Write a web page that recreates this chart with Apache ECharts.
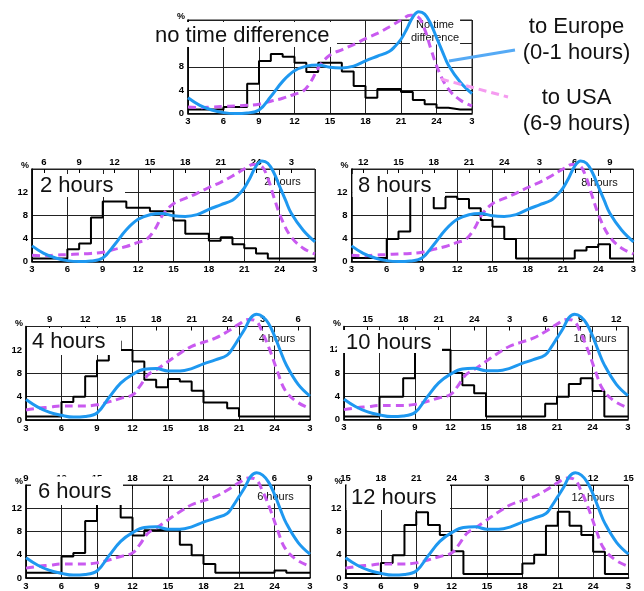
<!DOCTYPE html>
<html><head><meta charset="utf-8">
<script src="https://cdn.jsdelivr.net/npm/echarts@6/dist/echarts.min.js"></script>
<style>html,body{margin:0;padding:0;background:#fff}#c{width:644px;height:591px}</style>
</head><body><div id="c"></div>
<script>
// ---------- DATA ----------
const hourStarts = [3,4,5,6,7,8,9,10,11,12,13,14,15,16,17,18,19,20,21,22,23,24,25,26];
const bottomTicks = [3,6,9,12,15,18,21,24,27];
const yTicks = [0,4,8,12];

const stepsNone = [0.7,0.7,0.7,1.1,1.1,5.1,9.0,10.2,9.7,8.7,7.1,8.7,8.7,7.2,4.7,2.7,4.2,4.2,3.7,2.3,1.6,1.0,0.7,0.7];
const steps2h   = [0.5,0.5,0.5,2.1,3.1,7.6,10.4,10.4,9.3,9.3,8.7,8.7,7.1,4.8,4.8,3.6,4.2,3.0,2.3,1.4,0.5,0.5,0.5,0.5];
const steps8h   = [0.6,0.6,0.6,3.9,5.2,13.0,13.5,9.2,11.2,10.8,9.2,7.2,6.0,3.9,0.5,0.5,0.5,0.5,0.5,1.9,2.5,3.0,0.5,0.5];
const steps4h   = [0.6,0.6,0.6,3.1,4.0,7.5,10.2,13.5,12.0,10.0,6.9,5.6,7.0,6.6,5.0,3.0,3.0,2.0,0.6,0.6,0.6,0.6,0.6,0.6];
const steps10h  = [0.5,0.5,0.5,3.9,3.9,7.1,13.0,13.5,12.0,8.0,5.9,4.5,0.5,0.5,0.5,0.5,0.5,2.7,3.9,6.1,7.1,4.9,0.5,0.5];
const steps6h   = [0.9,0.9,0.9,3.7,4.3,9.8,13.5,14.0,10.4,7.3,8.2,8.3,8.3,5.7,3.9,2.4,0.9,0.9,0.9,0.9,0.9,1.3,0.9,0.9];
const steps12h  = [0.7,0.7,0.7,2.6,3.9,9.1,11.3,9.1,7.4,4.6,0.7,0.7,0.7,0.7,0.7,2.5,4.0,9.0,11.4,9.0,7.4,4.5,0.7,0.7];

const europeHours = [3,4,5,6,7,8,9,10,11,12,13,14,15,16,17,18,19,20,20.5,21,21.5,22,22.5,23,23.5,24,24.5,25,26,27];
const europeA = [2.7,1.4,0.6,0.15,0.0,0.1,0.6,2.9,5.5,7.3,8.1,8.3,7.9,7.8,8.1,9.0,9.8,10.6,11.5,12.7,14.5,16.5,17.4,17.0,15.4,13.0,10.6,8.3,5.4,3.4];
const europeB = [3.5,2.2,1.3,0.8,0.5,0.6,1.2,3.8,6.3,7.8,8.7,8.8,8.4,8.4,8.8,9.6,10.3,11.1,12.4,14.0,15.6,17.5,18.1,17.7,16.5,14.4,11.8,9.4,6.1,4.1];

const usaHoursA = [3,4,5,6,7,8,9,10,11,12,12.7,13.4,14.1,15,16,17,18,19,20,21,21.8,22.4,23,23.5,24.2,25,26,27];
const usaA = [1.1,1.0,1.1,1.2,1.3,1.4,1.6,2.1,2.6,3.3,3.8,5.5,8.1,10.0,10.9,11.8,12.8,13.7,14.8,16.0,16.8,16.6,14.4,11.2,7.2,4.2,2.3,1.3];
const usaHoursB = [3,4,5,6,7,8,9,10,11,12,12.6,13.3,14,15,16,17,18,19,20,21,21.8,22.4,23,23.6,24.2,24.9,25.9,27];
const usaB = [1.7,2.0,2.2,2.4,2.4,2.4,2.6,3.1,3.7,4.3,5.7,7.7,8.6,10.0,11.4,12.6,13.3,14.0,15.1,16.4,17.2,17.0,14.9,12.0,8.6,5.1,3.1,2.0];

const panelTitles = ['no time difference','2 hours','8 hours','4 hours','10 hours','6 hours','12 hours'];
const smallTitles = ['No time\ndifference','2 hours','8 hours','4 hours','10 hours','6 hours','12 hours'];
const shifts = [null,2,8,4,10,6,12];
const legendTexts = ['to Europe','(0-1 hours)','to USA','(6-9 hours)'];

// ---------- LAYOUT / STYLE ----------
const FONT = "'Liberation Sans', Arial, sans-serif";
const LBL = "'Liberation Sans', Arial, sans-serif";
const BLUE = '#1e98f0', MAG = '#c95af0';

const layout = [
  {steps:stepsNone, set:'A', left:188, top:20, w:284, h:93.5, box:[150,22,187,25], bx:155, by:35.5, sx:435, sy:31.5},
  {steps:steps2h, set:'A', left:32, top:169, w:283, h:92.5, box:[33,174,92,23], bx:40, by:185.5, sx:282.5, sy:181.5},
  {steps:steps8h, set:'A', left:351.5, top:169, w:282, h:92.5, box:[352.5,174,92.5,23], bx:358, by:185.5, sx:599.5, sy:182.5},
  {steps:steps4h, set:'B', left:26, top:326.5, w:284, h:93.5, box:[27,328,94,27], bx:32, by:342, sx:277, sy:339},
  {steps:steps10h, set:'B', left:344, top:326.5, w:284, h:93, box:[337,330,105,23], bx:346, by:343, sx:595, sy:339},
  {steps:steps6h, set:'B', left:26, top:485, w:284, h:93.5, box:[31,476.5,92,28.5], bx:38, by:491.5, sx:275.5, sy:497},
  {steps:steps12h, set:'B', left:345.5, top:485, w:283, h:93.5, box:[346.5,484,103.5,26], bx:351, by:498, sx:593, sy:498}
];

const labelStyle = {color:'#000', fontSize:9.5, fontWeight:'bold', fontFamily:LBL};
const grid = [], xAxis = [], yAxis = [], series = [], graphic = [];
const topCats = [];
for (let h = 3; h <= 27; h++) topCats.push(String(h));

layout.forEach((p, i) => {
  grid.push({left:p.left, top:p.top, width:p.w, height:p.h, show:true, borderColor:'#222', borderWidth:1, backgroundColor:'transparent'});
  const bIdx = xAxis.length;
  xAxis.push({
    gridIndex:i, type:'value', min:bottomTicks[0], max:bottomTicks[bottomTicks.length-1], interval:3,
    axisLine:{show:true, lineStyle:{color:'#000', width:1.6}},
    axisTick:{show:false},
    splitLine:{show:true, lineStyle:{color:'#222', width:1}},
    axisLabel:Object.assign({margin:3, formatter:v => String(v > 24 ? v - 24 : v)}, labelStyle)
  });
  const s = shifts[i];
  if (s !== null) {
    const showFn = (idx, val) => (Number(val) + s) % 3 === 0;
    xAxis.push({
      gridIndex:i, type:'category', position:'top', data:topCats, boundaryGap:false,
      axisLine:{show:false},
      axisTick:{show:true, inside:true, length:4, interval:showFn, lineStyle:{color:'#000', width:1}},
      splitLine:{show:false},
      axisLabel:Object.assign({margin:2, interval:showFn,
        formatter:v => String((Number(v) + s - 1) % 24 + 1)}, labelStyle)
    });
  }
  yAxis.push({
    gridIndex:i, type:'value', min:0, max:16, interval:4,
    axisLine:{show:true, lineStyle:{color:'#000', width:1.6}},
    axisTick:{show:false},
    splitLine:{show:true, lineStyle:{color:'#222', width:1}},
    axisLabel:Object.assign({margin:4, formatter:v => (yTicks.indexOf(v) >= 0 ? String(v) : '')}, labelStyle)
  });
  const stepData = hourStarts.map((h, k) => [h, p.steps[k]]);
  stepData.push([27, p.steps[p.steps.length - 1]]);
  series.push({type:'line', xAxisIndex:bIdx, yAxisIndex:i, step:'end', data:stepData, symbol:'none',
    lineStyle:{color:'#000', width:2}, z:3, silent:true, animation:false});
  const uH = p.set === 'A' ? usaHoursA : usaHoursB, uV = p.set === 'A' ? usaA : usaB;
  series.push({type:'line', xAxisIndex:bIdx, yAxisIndex:i, smooth:0.4, clip:false, symbol:'none',
    data:uH.map((h, k) => [h, uV[k]]), lineStyle:{color:MAG, width:3, type:[8,5]}, z:4, silent:true, animation:false});
  const eV = p.set === 'A' ? europeA : europeB;
  series.push({type:'line', xAxisIndex:bIdx, yAxisIndex:i, smooth:0.4, clip:false, symbol:'none',
    data:europeHours.map((h, k) => [h, eV[k]]), lineStyle:{color:BLUE, width:3}, z:5, silent:true, animation:false});

  graphic.push({type:'text', x:p.left - 7, y:p.top - 3, z:10,
    style:{text:'%', fill:'#000', font:'bold 9px ' + LBL, align:'center', verticalAlign:'middle', textAlign:'center', textVerticalAlign:'middle'}});
  graphic.push({type:'text', x:p.sx, y:p.sy, z:1,
    style:{text:smallTitles[i], fill:'#111', font:'11px ' + FONT, align:'center', verticalAlign:'middle', textAlign:'center', textVerticalAlign:'middle',
      lineHeight:13, backgroundColor:'#fff', padding:[0,1]}});
  graphic.push({type:'rect', z:100, shape:{x:p.box[0], y:p.box[1], width:p.box[2], height:p.box[3]}, style:{fill:'#fff'}});
  graphic.push({type:'text', x:p.bx, y:p.by, z:101,
    style:{text:panelTitles[i], fill:'#111', font:'22px ' + FONT, align:'left', verticalAlign:'middle', textAlign:'left', textVerticalAlign:'middle'}});
});

graphic.push({type:'line', z:50, shape:{x1:449, y1:61, x2:515, y2:50}, style:{stroke:'#55aaf5', lineWidth:3}});
graphic.push({type:'line', z:50, shape:{x1:441, y1:79, x2:508, y2:97}, style:{stroke:'#f59bf0', lineWidth:3, lineDash:[8,5]}});
const legY = [27, 53, 98, 124];
legendTexts.forEach((t, k) => {
  graphic.push({type:'text', x:576.5, y:legY[k], z:60,
    style:{text:t, fill:'#111', font:'22px ' + FONT, align:'center', verticalAlign:'middle', textAlign:'center', textVerticalAlign:'middle'}});
});

const chart = echarts.init(document.getElementById('c'), null, {renderer:'canvas'});
chart.setOption({animation:false, backgroundColor:'#fff', grid, xAxis, yAxis, series, graphic});
</script>
</body></html>
